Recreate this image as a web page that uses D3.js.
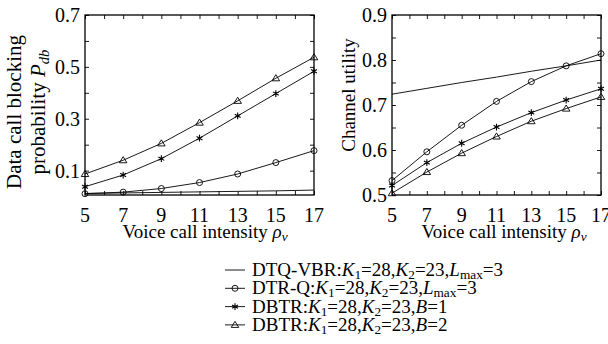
<!DOCTYPE html>
<html><head><meta charset="utf-8">
<script src="https://cdn.jsdelivr.net/npm/d3@7"></script>
<style>
html,body{margin:0;padding:0;background:#fff;}
svg text{font-family:"Liberation Serif","Times New Roman",serif;fill:#000;}
</style></head>
<body><svg id="c" width="608" height="344"></svg>
<script>
// ---- data ----
const rho = [5, 7, 9, 11, 13, 15, 17];
// left panel: data call blocking probability
const pdbDTQ   = [0.012, 0.014, 0.016, 0.018, 0.020, 0.022, 0.025];
const pdbDTRQ  = [0.011, 0.017, 0.031, 0.054, 0.087, 0.131, 0.177];
const pdbB1    = [0.038, 0.083, 0.146, 0.225, 0.311, 0.397, 0.483];
const pdbB2    = [0.087, 0.140, 0.205, 0.285, 0.369, 0.456, 0.537];
// right panel: channel utility
const utDTQ    = [0.724, 0.737, 0.750, 0.762, 0.775, 0.787, 0.800];
const utDTRQ   = [0.532, 0.596, 0.655, 0.708, 0.752, 0.787, 0.814];
const utB1     = [0.521, 0.572, 0.615, 0.651, 0.683, 0.711, 0.736];
const utB2     = [0.504, 0.551, 0.593, 0.630, 0.664, 0.692, 0.718];
const xTickLabels = [5, 7, 9, 11, 13, 15, 17];
const yTickLabelsL = [0.1, 0.3, 0.5, 0.7];
const yTickLabelsR = [0.5, 0.6, 0.7, 0.8, 0.9];

const svg = d3.select("#c");

function richText(sel, parts){
  parts.forEach(p=>{
    const t = sel.append("tspan").text(p.t);
    if(p.i) t.style("font-style","italic");
    if(p.sub){ t.attr("baseline-shift","-25%").style("font-size","70%"); }
  });
}

function marker(g, type, x, y){
  if(type==="circle"){
    g.append("circle").attr("cx",x).attr("cy",y).attr("r",3).attr("fill","none").attr("stroke","#000").attr("stroke-width",0.9);
  } else if(type==="tri"){
    const s = 3.6;
    g.append("path").attr("d",`M${x},${y-s}L${x+s*1.05},${y+s*0.7}L${x-s*1.05},${y+s*0.7}Z`).attr("fill","none").attr("stroke","#000").attr("stroke-width",0.9);
  } else if(type==="star"){
    const s = 3.4;
    let d = "";
    [90, 30, 150].forEach(a=>{
      const rad = a*Math.PI/180, dx = Math.cos(rad)*s, dy = Math.sin(rad)*s;
      d += `M${x-dx},${y-dy}L${x+dx},${y+dy}`;
    });
    g.append("path").attr("d",d).attr("stroke","#000").attr("stroke-width",1.1);
  }
}

function panel(opt){
  const g = svg.append("g");
  const x = d3.scaleLinear().domain([5,17]).range([opt.x0,opt.x1]);
  const y = d3.scaleLinear().domain(opt.ydom).range([opt.y1,opt.y0]);
  const tl = 4;
  const xt = d3.range(5,17.001,1);
  const xAxB = d3.axisBottom(x).tickValues(xt).tickSize(-tl).tickFormat("");
  const xAxT = d3.axisTop(x).tickValues(xt).tickSize(-tl).tickFormat("");
  const yAxL = d3.axisLeft(y).tickValues(opt.yticks).tickSize(-tl).tickFormat("");
  const yAxR = d3.axisRight(y).tickValues(opt.yticks).tickSize(-tl).tickFormat("");
  [[xAxB,`translate(0,${opt.y1})`],[xAxT,`translate(0,${opt.y0})`],[yAxL,`translate(${opt.x0},0)`],[yAxR,`translate(${opt.x1},0)`]].forEach(([ax,tr])=>{
    const a = g.append("g").attr("transform",tr).call(ax);
    a.select(".domain").remove();
    a.selectAll("line").attr("stroke","#000").attr("stroke-width",0.9);
  });
  g.selectAll(".xl").data(xTickLabels).enter().append("text")
    .attr("x",d=>x(d)).attr("y",opt.y1+27).attr("text-anchor","middle")
    .style("font-size","20px").text(d=>d);
  g.selectAll(".yl").data(opt.ylabels).enter().append("text")
    .attr("x",opt.x0-5).attr("y",d=>y(d)+7).attr("text-anchor","end")
    .style("font-size","20px").text(d=>d.toFixed(1));
  const line = d3.line().x((d,i)=>x(rho[i])).y(d=>y(d));
  opt.series.forEach(s=>{
    g.append("path").datum(s.v).attr("d",line).attr("fill","none").attr("stroke","#000").attr("stroke-width",0.9);
    if(s.m) s.v.forEach((v,i)=>marker(g,s.m,x(rho[i]),y(v)));
  });
  g.append("rect").attr("x",opt.x0).attr("y",opt.y0).attr("width",opt.x1-opt.x0).attr("height",opt.y1-opt.y0)
    .attr("fill","none").attr("stroke","#000").attr("stroke-width",1.3);
  const xt2 = g.append("text").attr("x",opt.xtx).attr("y",238).attr("text-anchor","middle").style("font-size","19px");
  richText(xt2,[{t:"Voice call intensity "},{t:"ρ",i:1},{t:"v",i:1,sub:1}]);
  return g;
}

panel({x0:85,x1:314,y0:15,y1:195,ydom:[0.006,0.7],yticks:d3.range(0.1,0.7001,0.1),ylabels:yTickLabelsL,xtx:205,
  series:[{v:pdbDTQ},{v:pdbDTRQ,m:"circle"},{v:pdbB1,m:"star"},{v:pdbB2,m:"tri"}]});
panel({x0:392,x1:601,y0:15,y1:195,ydom:[0.5,0.9],yticks:d3.range(0.5,0.9001,0.05),ylabels:yTickLabelsR,xtx:504,
  series:[{v:utDTQ},{v:utDTRQ,m:"circle"},{v:utB1,m:"star"},{v:utB2,m:"tri"}]});

svg.append("text").attr("transform","translate(21,112) rotate(-90)").attr("text-anchor","middle").style("font-size","21px").text("Data call blocking");
const yl2 = svg.append("text").attr("transform","translate(45,112) rotate(-90)").attr("text-anchor","middle").style("font-size","21px");
richText(yl2,[{t:"probability "},{t:"P",i:1},{t:"db",i:1,sub:1}]);
svg.append("text").attr("transform","translate(355,95) rotate(-90)").attr("text-anchor","middle").style("font-size","19px").text("Channel utility");

const legItems = [
  {m:null, parts:[{t:"DTQ-VBR:"},{t:"K",i:1},{t:"1",sub:1},{t:"=28,"},{t:"K",i:1},{t:"2",sub:1},{t:"=23,"},{t:"L",i:1},{t:"max",sub:1},{t:"=3"}]},
  {m:"circle", parts:[{t:"DTR-Q:"},{t:"K",i:1},{t:"1",sub:1},{t:"=28,"},{t:"K",i:1},{t:"2",sub:1},{t:"=23,"},{t:"L",i:1},{t:"max",sub:1},{t:"=3"}]},
  {m:"star", parts:[{t:"DBTR:"},{t:"K",i:1},{t:"1",sub:1},{t:"=28,"},{t:"K",i:1},{t:"2",sub:1},{t:"=23,"},{t:"B",i:1},{t:"=1"}]},
  {m:"tri", parts:[{t:"DBTR:"},{t:"K",i:1},{t:"1",sub:1},{t:"=28,"},{t:"K",i:1},{t:"2",sub:1},{t:"=23,"},{t:"B",i:1},{t:"=2"}]}
];
const lg = svg.append("g");
legItems.forEach((it,i)=>{
  const cy = 270 + i*18.3;
  lg.append("line").attr("x1",225).attr("x2",245).attr("y1",cy).attr("y2",cy).attr("stroke","#000").attr("stroke-width",0.9);
  if(it.m) marker(lg,it.m,235,cy);
  const t = lg.append("text").attr("x",252).attr("y",cy+6).style("font-size","19px");
  richText(t,it.parts);
});
</script></body></html>
